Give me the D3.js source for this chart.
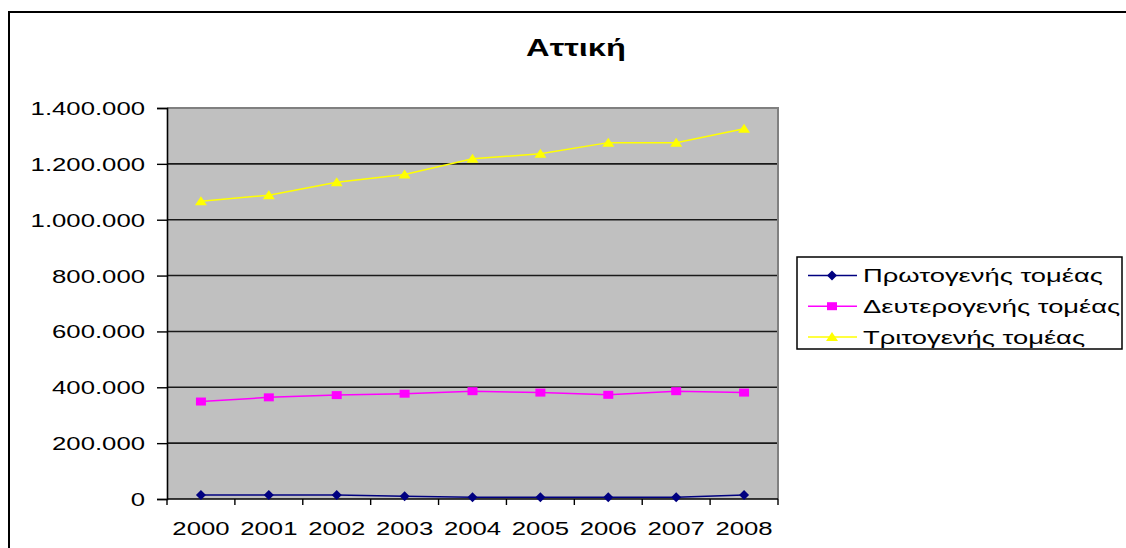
<!DOCTYPE html>
<html><head><meta charset="utf-8">
<script src="https://cdn.jsdelivr.net/npm/d3@7"></script>
<style>
html,body{margin:0;padding:0;background:#fff;}
svg{display:block;font-family:"Liberation Sans",Arial,sans-serif;}
</style></head>
<body>
<svg id="chart" width="1126" height="548"></svg>
<script>
const title = "Αττική";
const years = ["2000","2001","2002","2003","2004","2005","2006","2007","2008"];
const seriesNames = ["Πρωτογενής τομέας","Δευτερογενής τομέας","Τριτογενής τομέας"];
const primary   = [14000, 14000, 14000, 10000, 6000, 6000, 6000, 6000, 14000];
const secondary = [349000, 364000, 372000, 377000, 386000, 381000, 373000, 386000, 381000];
const tertiary  = [1066000, 1088000, 1134000, 1162000, 1218000, 1236000, 1276000, 1276000, 1326000];
const yTicks = [0,200000,400000,600000,800000,1000000,1200000,1400000];
const colors = ["#000080","#FF00FF","#FFFF00"];
const markers = ["diamond","square","triangle"];

const svg = d3.select("#chart");
const L = 167, R = 778, T = 108, B = 499;
const SX = 1.43;

// outer border
svg.append("rect").attr("x",9).attr("y",12).attr("width",1300).attr("height",700)
  .attr("fill","#fff").attr("stroke","#000").attr("stroke-width",2);

const x = d3.scaleBand().domain(years).range([L,R]).paddingInner(0).paddingOuter(0);
const y = d3.scaleLinear().domain([0,1400000]).range([B,T]);

// plot background
svg.append("rect").attr("x",L).attr("y",T).attr("width",R-L).attr("height",B-T).attr("fill","#C0C0C0");
// gridlines
svg.append("g").selectAll("line").data(yTicks.slice(1,-1)).join("line")
  .attr("x1",L).attr("x2",R).attr("y1",d=>y(d)).attr("y2",d=>y(d))
  .attr("stroke","#1a1a1a").attr("stroke-width",1.6);
// plot border top/right gray
svg.append("path").attr("d",`M${L},${T}H${R}V${B}`).attr("fill","none").attr("stroke","#808080").attr("stroke-width",2);

// y axis
const fmt = v => d3.format(",")(v).replace(/,/g,".");
const yAxis = svg.append("g").attr("transform",`translate(${L},0)`)
  .call(d3.axisLeft(y).tickValues(yTicks).tickSize(10).tickPadding(12).tickFormat(fmt));
yAxis.select(".domain").attr("stroke","#000").attr("stroke-width",1.6);
yAxis.selectAll(".tick line").attr("stroke","#000").attr("stroke-width",1.4);
yAxis.selectAll(".tick text").attr("font-size",18).attr("fill","#000")
  .attr("font-family","'Liberation Sans',Arial,sans-serif")
  .attr("transform",function(){const xx=+d3.select(this).attr("x");return `translate(${xx},0) scale(${SX},1)`;}).attr("x",0).attr("dy","0.36em");

// x axis (ticks at category boundaries)
const xg = svg.append("g");
xg.append("line").attr("x1",L).attr("x2",R).attr("y1",B).attr("y2",B).attr("stroke","#000").attr("stroke-width",1.6);
const bounds = years.map(d=>x(d)).concat([x(years[years.length-1])+x.bandwidth()]);
xg.selectAll("line.t").data(bounds).join("line").attr("class","t")
  .attr("x1",d=>d).attr("x2",d=>d).attr("y1",B).attr("y2",B+6).attr("stroke","#000").attr("stroke-width",1.4);
xg.selectAll("text").data(years).join("text")
  .attr("transform",d=>`translate(${x(d)+x.bandwidth()/2},535) scale(${SX},1)`)
  .attr("text-anchor","middle").attr("font-size",18).attr("fill","#000").text(d=>d);

// marker shapes
function markerPath(type){
  if(type==="diamond") return "M0,-5L5,0L0,5L-5,0Z";
  if(type==="square") return "M-5,-4H5V4H-5Z";
  return "M0,-5L6,4H-6Z";
}
const data = [primary,secondary,tertiary];
const line = d3.line().x((d,i)=>x(years[i])+x.bandwidth()/2).y(d=>y(d));
data.forEach((vals,si)=>{
  svg.append("path").datum(vals).attr("d",line).attr("fill","none")
    .attr("stroke",colors[si]).attr("stroke-width",1.5);
  svg.append("g").selectAll("path").data(vals).join("path")
    .attr("transform",(d,i)=>`translate(${x(years[i])+x.bandwidth()/2},${y(d)})`)
    .attr("d",markerPath(markers[si])).attr("fill",colors[si]);
});

// title
svg.append("text").attr("transform",`translate(576,56) scale(1.36,1)`).attr("text-anchor","middle")
  .attr("font-size",24).attr("font-weight","bold").attr("fill","#000").text(title);

// legend
const lg = svg.append("g");
lg.append("rect").attr("x",797).attr("y",257).attr("width",325).attr("height",92)
  .attr("fill","#fff").attr("stroke","#000").attr("stroke-width",1.5);
seriesNames.forEach((name,i)=>{
  const cy = 275.5 + i*30.7;
  lg.append("line").attr("x1",808).attr("x2",857).attr("y1",cy).attr("y2",cy).attr("stroke",colors[i]).attr("stroke-width",1.5);
  lg.append("path").attr("transform",`translate(832,${cy})`).attr("d",markerPath(markers[i])).attr("fill",colors[i]);
  lg.append("text").attr("transform",`translate(863,${cy}) scale(1.44,1)`).attr("dy","0.36em")
    .attr("font-size",19).attr("fill","#000").text(name);
});
</script>
</body></html>
